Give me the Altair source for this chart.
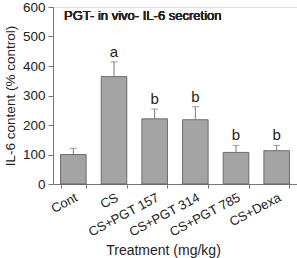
import altair as alt
import pandas as pd

categories = ["Cont", "CS", "CS+PGT 157", "CS+PGT 314", "CS+PGT 785", "CS+Dexa"]
values = [100, 364, 221, 218, 107, 113]
err_top = [121, 414, 254, 262, 131, 131]
letters = ["", "a", "b", "b", "b", "b"]
y_ticks = [0, 100, 200, 300, 400, 500, 600]

df = pd.DataFrame({"cat": categories, "val": values, "err": err_top, "lab": letters})

FONT = "Liberation Sans"
xaxis = alt.Axis(title="Treatment (mg/kg)", labelAngle=-28, labelAlign="right",
                 labelBaseline="top", labelFontSize=13, labelColor="#222",
                 labelFont=FONT, titleFont=FONT, titleFontSize=14, titleFontWeight="normal",
                 titleColor="#222", tickBand="extent", tickSize=4, tickColor="#777",
                 domainColor="#777", titlePadding=5, labelPadding=3, titleX=110,
                 labelOverlap=False)
yaxis = alt.Axis(title="IL-6 content (% control)", values=y_ticks, tickCount=7,
                 grid=False, labelFontSize=13.5, labelFont=FONT, labelColor="#222",
                 titleFont=FONT, titleFontSize=13.5, titleFontWeight="normal", titleColor="#222",
                 tickSize=5, tickColor="#777", domainColor="#777", titlePadding=5,
                 labelPadding=3, labelOverlap=False, labelFlush=False)

xscale = alt.Scale(paddingInner=0.37, paddingOuter=0.185)
yscale = alt.Scale(domain=[0, 600], nice=False)
xs = alt.X("cat:N", sort=categories, scale=xscale, axis=xaxis)

bars = alt.Chart(df).mark_bar(color="#a4a4a4", stroke="#555", strokeWidth=0.8).encode(
    x=xs, y=alt.Y("val:Q", scale=yscale, axis=yaxis),
)
rule = alt.Chart(df).mark_rule(color="#777", strokeWidth=1).encode(
    x=xs, y=alt.Y("val:Q", scale=yscale, axis=yaxis), y2="err:Q"
)
cap = alt.Chart(df).mark_tick(color="#777", size=7, thickness=1).encode(
    x=xs, y=alt.Y("err:Q", scale=yscale, axis=yaxis)
)
text = alt.Chart(df).mark_text(font=FONT, fontSize=15, color="#222", dy=-10).encode(
    x=xs, y=alt.Y("err:Q", scale=yscale, axis=yaxis), text="lab:N"
)
title = alt.Chart(df).mark_text(font=FONT, fontSize=13, fontWeight="normal", color="#222",
                                align="left", baseline="middle").encode(
    x=alt.value(11), y=alt.value(9), text=alt.value("PGT- in vivo- IL-6 secretion")
)

chart = alt.layer(bars, rule, cap, text, title).properties(
    width=244, height=177,
    autosize=alt.AutoSizeParams(type="none"),
    padding={"left": 53, "top": 7, "right": 0, "bottom": 74},
).configure_view(stroke=None).configure(background="white")

chart.save("out.html", embed_options={"renderer": "svg", "actions": False})
